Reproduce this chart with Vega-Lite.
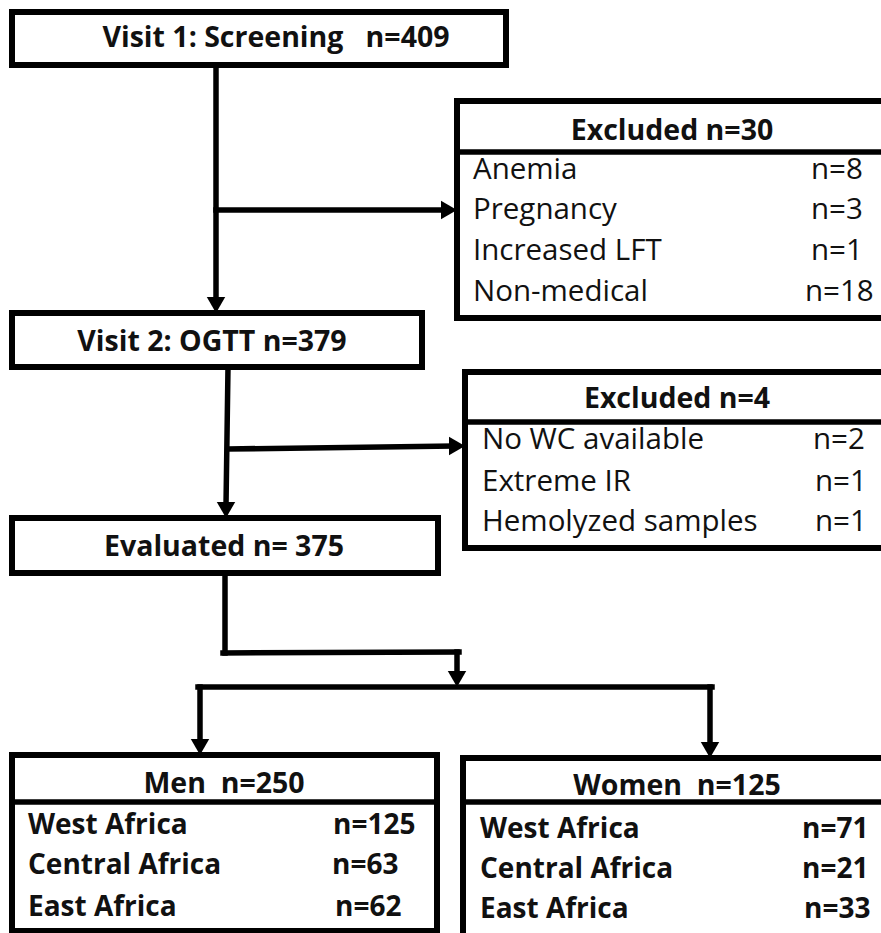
{
  "$schema": "https://vega.github.io/schema/vega-lite/v6.json",
  "width": 881,
  "height": 933,
  "padding": 0,
  "autosize": "none",
  "background": "white",
  "config": {"view": {"stroke": null}},
  "datasets": {
    "boxes": [
      {"box": "Visit 1", "x1": 12, "x2": 506, "y1": 12, "y2": 65},
      {"box": "Excluded 30", "x1": 457, "x2": 900, "y1": 101, "y2": 318},
      {"box": "Visit 2", "x1": 12, "x2": 422, "y1": 313, "y2": 367},
      {"box": "Excluded 4", "x1": 465, "x2": 900, "y1": 372, "y2": 548},
      {"box": "Evaluated", "x1": 12, "x2": 438, "y1": 518, "y2": 573},
      {"box": "Men", "x1": 12, "x2": 437, "y1": 755, "y2": 931},
      {"box": "Women", "x1": 463, "x2": 900, "y1": 758, "y2": 945}
    ],
    "lines": [
      {"seg": "div30", "x1": 457, "x2": 900, "y1": 152, "y2": 152},
      {"seg": "div4", "x1": 465, "x2": 900, "y1": 422, "y2": 422},
      {"seg": "divMen", "x1": 12, "x2": 437, "y1": 802, "y2": 802},
      {"seg": "divWomen", "x1": 463, "x2": 900, "y1": 802, "y2": 802},
      {"seg": "v1", "x1": 216, "x2": 216, "y1": 65, "y2": 300},
      {"seg": "h1", "x1": 216, "x2": 444, "y1": 210, "y2": 210},
      {"seg": "v2", "x1": 228, "x2": 226, "y1": 367, "y2": 506},
      {"seg": "h2", "x1": 228, "x2": 452, "y1": 449, "y2": 446},
      {"seg": "v3", "x1": 225, "x2": 225, "y1": 573, "y2": 653},
      {"seg": "h3", "x1": 223, "x2": 459, "y1": 653, "y2": 652},
      {"seg": "v4", "x1": 457, "x2": 457, "y1": 652, "y2": 674},
      {"seg": "h4", "x1": 198, "x2": 712, "y1": 687, "y2": 687},
      {"seg": "v5", "x1": 200, "x2": 200, "y1": 687, "y2": 742},
      {"seg": "v6", "x1": 710, "x2": 710, "y1": 687, "y2": 745}
    ],
    "arrows": [
      {"dir": "down", "x": 216, "y": 305},
      {"dir": "right", "x": 449, "y": 210},
      {"dir": "down", "x": 226, "y": 510},
      {"dir": "right", "x": 457, "y": 446},
      {"dir": "down", "x": 457, "y": 679},
      {"dir": "down", "x": 200, "y": 747},
      {"dir": "down", "x": 710, "y": 750}
    ],
    "texts": [
      {"kind": "title", "label": "Visit 1: Screening\u00a0\u00a0 n=409", "x": 276, "y": 47},
      {"kind": "title", "label": "Excluded n=30", "x": 672, "y": 140},
      {"kind": "title", "label": "Visit 2: OGTT n=379", "x": 212, "y": 351},
      {"kind": "title", "label": "Excluded n=4", "x": 677, "y": 408},
      {"kind": "title", "label": "Evaluated n= 375", "x": 224, "y": 556},
      {"kind": "title", "label": "Men\u00a0 n=250", "x": 224, "y": 793},
      {"kind": "title", "label": "Women\u00a0 n=125", "x": 677, "y": 795},
      {"kind": "excl", "label": "Anemia", "x": 473, "y": 179},
      {"kind": "excl", "label": "n=8", "x": 811, "y": 179},
      {"kind": "excl", "label": "Pregnancy", "x": 473, "y": 219},
      {"kind": "excl", "label": "n=3", "x": 811, "y": 219},
      {"kind": "excl", "label": "Increased LFT", "x": 473, "y": 260},
      {"kind": "excl", "label": "n=1", "x": 811, "y": 260},
      {"kind": "excl", "label": "Non-medical", "x": 473, "y": 301},
      {"kind": "excl", "label": "n=18", "x": 805, "y": 301},
      {"kind": "excl", "label": "No WC available", "x": 482, "y": 449},
      {"kind": "excl", "label": "n=2", "x": 813, "y": 449},
      {"kind": "excl", "label": "Extreme IR", "x": 482, "y": 491},
      {"kind": "excl", "label": "n=1", "x": 815, "y": 491},
      {"kind": "excl", "label": "Hemolyzed samples", "x": 482, "y": 531},
      {"kind": "excl", "label": "n=1", "x": 815, "y": 531},
      {"kind": "group", "label": "West Africa", "x": 28, "y": 834},
      {"kind": "group", "label": "n=125", "x": 333, "y": 834},
      {"kind": "group", "label": "Central Africa", "x": 28, "y": 874},
      {"kind": "group", "label": "n=63", "x": 332, "y": 874},
      {"kind": "group", "label": "East Africa", "x": 28, "y": 916},
      {"kind": "group", "label": "n=62", "x": 335, "y": 916},
      {"kind": "group", "label": "West Africa", "x": 480, "y": 838},
      {"kind": "group", "label": "n=71", "x": 802, "y": 838},
      {"kind": "group", "label": "Central Africa", "x": 480, "y": 878},
      {"kind": "group", "label": "n=21", "x": 802, "y": 878},
      {"kind": "group", "label": "East Africa", "x": 480, "y": 918},
      {"kind": "group", "label": "n=33", "x": 804, "y": 918}
    ]
  },
  "layer": [
    {
      "data": {"name": "boxes"},
      "mark": {"type": "rect", "fill": "white", "stroke": "black", "strokeWidth": 6, "clip": false},
      "encoding": {
        "x": {"field": "x1", "type": "quantitative", "scale": {"domain": [0, 881], "nice": false, "zero": false}, "axis": null},
        "x2": {"field": "x2"},
        "y": {"field": "y1", "type": "quantitative", "scale": {"domain": [0, 933], "nice": false, "zero": false, "reverse": true}, "axis": null},
        "y2": {"field": "y2"}
      }
    },
    {
      "data": {"name": "lines"},
      "mark": {"type": "rule", "color": "black", "strokeWidth": 5.5, "strokeCap": "square"},
      "encoding": {
        "x": {"field": "x1", "type": "quantitative", "scale": {"domain": [0, 881], "nice": false, "zero": false}, "axis": null},
        "x2": {"field": "x2"},
        "y": {"field": "y1", "type": "quantitative", "scale": {"domain": [0, 933], "nice": false, "zero": false, "reverse": true}, "axis": null},
        "y2": {"field": "y2"}
      }
    },
    {
      "data": {"name": "arrows"},
      "mark": {"type": "point", "filled": true, "color": "black", "size": 340, "opacity": 1},
      "encoding": {
        "x": {"field": "x", "type": "quantitative", "scale": {"domain": [0, 881], "nice": false, "zero": false}, "axis": null},
        "y": {"field": "y", "type": "quantitative", "scale": {"domain": [0, 933], "nice": false, "zero": false, "reverse": true}, "axis": null},
        "shape": {"field": "dir", "type": "nominal", "scale": {"domain": ["down", "right"], "range": ["triangle-down", "triangle-right"]}, "legend": null}
      }
    },
    {
      "data": {"name": "texts"},
      "transform": [{"filter": "datum.kind === 'title'"}],
      "mark": {"type": "text", "font": "Open Sans", "fontWeight": "bold", "fontSize": 28.5, "align": "center", "baseline": "alphabetic", "color": "#111"},
      "encoding": {
        "x": {"field": "x", "type": "quantitative", "scale": {"domain": [0, 881], "nice": false, "zero": false}, "axis": null},
        "y": {"field": "y", "type": "quantitative", "scale": {"domain": [0, 933], "nice": false, "zero": false, "reverse": true}, "axis": null},
        "text": {"field": "label"}
      }
    },
    {
      "data": {"name": "texts"},
      "transform": [{"filter": "datum.kind === 'excl'"}],
      "mark": {"type": "text", "font": "Open Sans", "fontSize": 29.5, "align": "left", "baseline": "alphabetic", "color": "#111"},
      "encoding": {
        "x": {"field": "x", "type": "quantitative", "scale": {"domain": [0, 881], "nice": false, "zero": false}, "axis": null},
        "y": {"field": "y", "type": "quantitative", "scale": {"domain": [0, 933], "nice": false, "zero": false, "reverse": true}, "axis": null},
        "text": {"field": "label"}
      }
    },
    {
      "data": {"name": "texts"},
      "transform": [{"filter": "datum.kind === 'group'"}],
      "mark": {"type": "text", "font": "Open Sans", "fontWeight": "bold", "fontSize": 28, "align": "left", "baseline": "alphabetic", "color": "#111"},
      "encoding": {
        "x": {"field": "x", "type": "quantitative", "scale": {"domain": [0, 881], "nice": false, "zero": false}, "axis": null},
        "y": {"field": "y", "type": "quantitative", "scale": {"domain": [0, 933], "nice": false, "zero": false, "reverse": true}, "axis": null},
        "text": {"field": "label"}
      }
    }
  ]
}
